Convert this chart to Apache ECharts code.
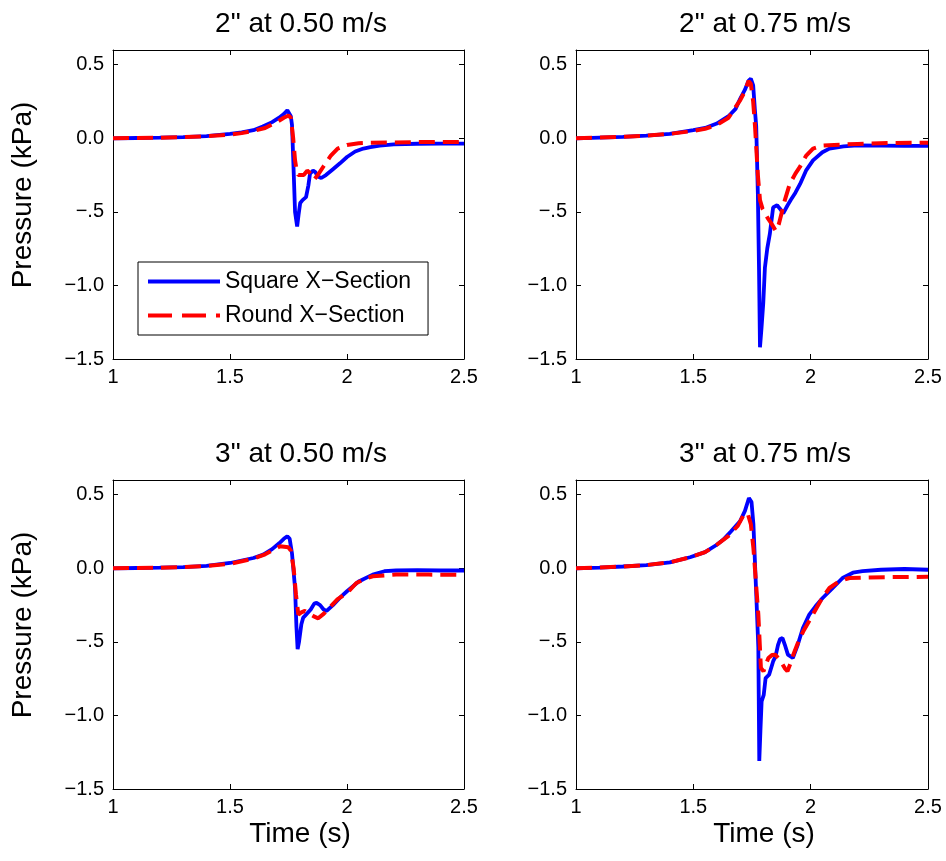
<!DOCTYPE html>
<html><head><meta charset="utf-8">
<script src="https://cdn.jsdelivr.net/npm/echarts@6/dist/echarts.min.js"></script>
<style>html,body{margin:0;padding:0;background:#fff}#c{width:946px;height:861px}</style>
</head><body><div id="c"></div>
<script>
// ---- data ----
const panelTitles = ['2" at 0.50 m/s', '2" at 0.75 m/s', '3" at 0.50 m/s', '3" at 0.75 m/s'];
const seriesNames = ['Square X\u2212Section', 'Round X\u2212Section'];
const xTickValues = [1, 1.5, 2, 2.5];
const xTickLabels = ['1', '1.5', '2', '2.5'];
const yTickValues = [-1.5, -1, -0.5, 0, 0.5];
const yTickLabels = ['\u22121.5', '\u22121.0', '\u2212.5', '0.0', '0.5'];
const xLabel = 'Time (s)';
const yLabel = 'Pressure (kPa)';

// 2" at 0.50 m/s
const tA_sq = [1.0,1.1,1.2,1.3,1.4,1.5,1.55,1.6,1.64,1.68,1.71,1.73,1.745,1.752,1.76,1.765,1.77,1.778,1.787,1.793,1.80,1.81,1.825,1.835,1.842,1.855,1.865,1.875,1.89,1.91,1.94,1.97,2.0,2.035,2.07,2.1,2.14,2.2,2.3,2.4,2.5];
const pA_sq = [0,0.002,0.004,0.008,0.015,0.03,0.04,0.055,0.08,0.11,0.14,0.165,0.19,0.195,0.15,0.09,-0.13,-0.50,-0.60,-0.52,-0.44,-0.42,-0.40,-0.32,-0.24,-0.22,-0.23,-0.26,-0.27,-0.25,-0.21,-0.17,-0.127,-0.09,-0.07,-0.06,-0.05,-0.042,-0.037,-0.036,-0.036];
const tA_rd = [1.0,1.1,1.2,1.3,1.4,1.5,1.55,1.6,1.65,1.7,1.73,1.75,1.76,1.77,1.778,1.785,1.792,1.80,1.815,1.83,1.845,1.86,1.875,1.9,1.93,1.96,2.0,2.05,2.1,2.2,2.3,2.4,2.5];
const pA_rd = [0,0.002,0.004,0.008,0.014,0.025,0.035,0.05,0.07,0.11,0.14,0.155,0.14,0.0,-0.15,-0.22,-0.25,-0.26,-0.25,-0.22,-0.24,-0.28,-0.25,-0.19,-0.12,-0.07,-0.045,-0.034,-0.03,-0.028,-0.026,-0.025,-0.025];

// 2" at 0.75 m/s
const tB_sq = [1.0,1.1,1.2,1.3,1.4,1.5,1.55,1.6,1.65,1.68,1.7,1.72,1.735,1.745,1.755,1.762,1.768,1.775,1.78,1.784,1.79,1.798,1.805,1.815,1.826,1.84,1.857,1.87,1.883,1.9,1.915,1.935,1.955,1.98,2.01,2.05,2.08,2.14,2.2,2.3,2.4,2.5];
const pB_sq = [0,0.005,0.01,0.018,0.03,0.055,0.07,0.10,0.15,0.20,0.27,0.33,0.39,0.405,0.36,0.2,0.08,-0.38,-0.9,-1.42,-1.30,-1.12,-0.88,-0.75,-0.65,-0.47,-0.455,-0.48,-0.51,-0.46,-0.42,-0.37,-0.31,-0.22,-0.15,-0.095,-0.07,-0.055,-0.048,-0.05,-0.052,-0.052];
const tB_rd = [1.0,1.1,1.2,1.3,1.4,1.5,1.55,1.6,1.65,1.7,1.72,1.735,1.745,1.755,1.763,1.775,1.784,1.795,1.805,1.82,1.833,1.852,1.865,1.876,1.89,1.911,1.935,1.954,1.98,2.01,2.05,2.1,2.2,2.35,2.5];
const pB_rd = [0,0.005,0.01,0.018,0.03,0.05,0.065,0.09,0.14,0.26,0.32,0.39,0.37,0.25,0.08,-0.25,-0.42,-0.48,-0.51,-0.55,-0.58,-0.63,-0.58,-0.51,-0.42,-0.31,-0.24,-0.195,-0.12,-0.07,-0.05,-0.045,-0.038,-0.032,-0.03];

// 3" at 0.50 m/s
const tC_sq = [1.0,1.1,1.2,1.3,1.4,1.5,1.6,1.642,1.68,1.71,1.73,1.745,1.755,1.765,1.778,1.784,1.789,1.795,1.805,1.813,1.822,1.83,1.845,1.86,1.87,1.885,1.9,1.913,1.94,1.97,2.0,2.05,2.11,2.16,2.21,2.3,2.4,2.5];
const pC_sq = [0,0.002,0.004,0.008,0.016,0.036,0.07,0.093,0.13,0.17,0.2,0.218,0.2,0.1,-0.134,-0.4,-0.55,-0.5,-0.38,-0.335,-0.32,-0.325,-0.28,-0.24,-0.235,-0.25,-0.28,-0.29,-0.25,-0.2,-0.156,-0.09,-0.043,-0.02,-0.015,-0.012,-0.015,-0.015];
const tC_rd = [1.0,1.1,1.2,1.3,1.4,1.5,1.6,1.65,1.69,1.714,1.749,1.76,1.772,1.782,1.792,1.805,1.82,1.84,1.856,1.877,1.9,1.93,1.96,2.0,2.04,2.08,2.11,2.21,2.35,2.5];
const pC_rd = [0,0.002,0.004,0.008,0.015,0.03,0.065,0.095,0.13,0.15,0.143,0.12,0.0,-0.18,-0.315,-0.30,-0.29,-0.31,-0.325,-0.34,-0.31,-0.26,-0.21,-0.168,-0.1,-0.07,-0.054,-0.043,-0.043,-0.045];

// 3" at 0.75 m/s
const tD_sq = [1.0,1.1,1.2,1.3,1.4,1.486,1.55,1.6,1.628,1.66,1.699,1.72,1.737,1.748,1.756,1.763,1.77,1.777,1.781,1.786,1.791,1.80,1.808,1.815,1.823,1.84,1.85,1.861,1.87,1.88,1.89,1.903,1.924,1.945,1.967,1.994,2.02,2.051,2.09,2.136,2.18,2.221,2.3,2.4,2.5];
const pD_sq = [0,0.005,0.012,0.022,0.04,0.075,0.11,0.16,0.195,0.25,0.32,0.39,0.478,0.45,0.3,0.025,-0.25,-0.54,-1.31,-1.1,-0.905,-0.86,-0.746,-0.74,-0.723,-0.633,-0.6,-0.52,-0.48,-0.474,-0.52,-0.587,-0.61,-0.52,-0.406,-0.315,-0.26,-0.202,-0.14,-0.066,-0.03,-0.02,-0.01,-0.005,-0.01];
const tD_rd = [1.0,1.1,1.2,1.3,1.4,1.486,1.55,1.6,1.65,1.69,1.719,1.733,1.745,1.756,1.767,1.777,1.788,1.799,1.81,1.82,1.835,1.849,1.862,1.877,1.89,1.901,1.913,1.926,1.945,1.968,2.0,2.025,2.05,2.08,2.12,2.165,2.25,2.35,2.5];
const pD_rd = [0,0.005,0.012,0.022,0.04,0.075,0.11,0.16,0.22,0.29,0.376,0.365,0.3,0.138,-0.1,-0.315,-0.678,-0.70,-0.65,-0.61,-0.59,-0.587,-0.61,-0.644,-0.68,-0.70,-0.65,-0.587,-0.51,-0.43,-0.34,-0.27,-0.2,-0.134,-0.09,-0.066,-0.062,-0.06,-0.058];

const squareT = [tA_sq, tB_sq, tC_sq, tD_sq];
const squareP = [pA_sq, pB_sq, pC_sq, pD_sq];
const roundT = [tA_rd, tB_rd, tC_rd, tD_rd];
const roundP = [pA_rd, pB_rd, pC_rd, pD_rd];

// ---- layout / style ----
const FONT = 'Arial, "Liberation Sans", Helvetica, sans-serif';
const grids = [
  {left: 113, top: 50, width: 351, height: 309},
  {left: 576, top: 50, width: 352, height: 309},
  {left: 113, top: 480, width: 351, height: 309},
  {left: 576, top: 480, width: 352, height: 309}
];
const titlePos = [[301, 24], [765, 24], [301, 454], [765, 454]];

function zip(t, p) { return t.map((v, i) => [v, p[i]]); }
function lookup(vals, labels, v) {
  for (let i = 0; i < vals.length; i++) if (Math.abs(vals[i] - v) < 1e-9) return labels[i];
  return '';
}

const lineCol = '#000';
const xAxes = [], yAxes = [], series = [], graphics = [];
grids.forEach((g, i) => {
  const tick = {show: true, inside: true, length: 5, lineStyle: {color: lineCol, width: 1}};
  const aLine = {show: true, onZero: false, lineStyle: {color: lineCol, width: 1}};
  xAxes.push({type: 'value', gridIndex: i, position: 'bottom', min: 1, max: 2.5, interval: 0.5,
    axisLine: aLine, axisTick: tick, splitLine: {show: false},
    axisLabel: {show: true, margin: 8, fontSize: 20, color: '#000', fontFamily: FONT,
      formatter: v => lookup(xTickValues, xTickLabels, v)}});
  xAxes.push({type: 'value', gridIndex: i, position: 'top', min: 1, max: 2.5, interval: 0.5,
    axisLine: aLine, axisTick: tick, splitLine: {show: false}, axisLabel: {show: false}});
  yAxes.push({type: 'value', gridIndex: i, position: 'left', min: -1.5, max: 0.6, interval: 0.5,
    axisLine: aLine, axisTick: tick, splitLine: {show: false},
    axisLabel: {show: true, margin: 9, fontSize: 20, color: '#000', fontFamily: FONT, showMaxLabel: false,
      formatter: v => lookup(yTickValues, yTickLabels, v)}});
  yAxes.push({type: 'value', gridIndex: i, position: 'right', min: -1.5, max: 0.6, interval: 0.5,
    axisLine: aLine, axisTick: tick, splitLine: {show: false}, axisLabel: {show: false}});
  series.push({name: seriesNames[0], type: 'line', xAxisIndex: 2 * i, yAxisIndex: 2 * i,
    data: zip(squareT[i], squareP[i]), symbol: 'none', showSymbol: false,
    lineStyle: {color: '#0000ff', width: 3.8, type: 'solid'}, itemStyle: {color: '#0000ff'}, z: 2});
  series.push({name: seriesNames[1], type: 'line', xAxisIndex: 2 * i, yAxisIndex: 2 * i,
    data: zip(roundT[i], roundP[i]), symbol: 'none', showSymbol: false,
    lineStyle: {color: '#ff0000', width: 4, type: [16, 8]}, itemStyle: {color: '#ff0000'}, z: 3});
  graphics.push({type: 'text', x: titlePos[i][0], y: titlePos[i][1],
    style: {text: panelTitles[i], fill: '#000', font: '28px ' + FONT, textAlign: 'center', textVerticalAlign: 'middle'}});
});
// axis names
[[23, 195], [23, 625]].forEach(p => graphics.push({type: 'text', x: p[0], y: p[1], rotation: Math.PI / 2,
  style: {text: yLabel, fill: '#000', font: '28px ' + FONT, textAlign: 'center', textVerticalAlign: 'middle'}}));
[[300, 834], [764, 834]].forEach(p => graphics.push({type: 'text', x: p[0], y: p[1],
  style: {text: xLabel, fill: '#000', font: '28px ' + FONT, textAlign: 'center', textVerticalAlign: 'middle'}}));

const chart = echarts.init(document.getElementById('c'), null, {renderer: 'canvas'});
chart.setOption({
  animation: false,
  backgroundColor: '#fff',
  grid: grids.map(g => Object.assign({containLabel: false}, g)),
  xAxis: xAxes,
  yAxis: yAxes,
  legend: {
    left: 138, top: 262, orient: 'vertical', itemWidth: 72, itemHeight: 14, itemGap: 11,
    padding: [8, 17, 8, 8], borderColor: '#000', borderWidth: 1, backgroundColor: '#fff',
    textStyle: {fontSize: 23, color: '#000', fontFamily: FONT},
    itemStyle: {opacity: 0},
    data: [
      {name: seriesNames[0], lineStyle: {width: 4, opacity: 1, type: 'solid', color: '#0000ff'}},
      {name: seriesNames[1], lineStyle: {width: 4, opacity: 1, type: [24, 10], color: '#ff0000'}}
    ]
  },
  series: series,
  graphic: graphics
});
</script></body></html>
